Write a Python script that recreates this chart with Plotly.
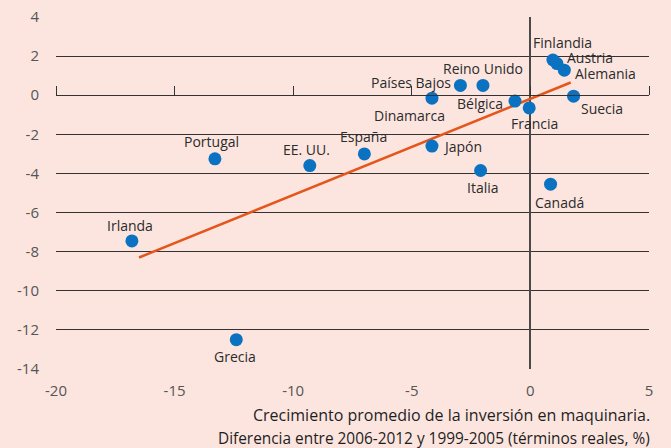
import plotly.graph_objects as go

countries = ["Portugal", "EE. UU.", "España", "Países Bajos", "Reino Unido", "Dinamarca",
             "Bélgica", "Francia", "Japón", "Italia", "Canadá", "Finlandia", "Austria",
             "Alemania", "Suecia", "Irlanda", "Grecia"]
x_vals = [-13.3, -9.3, -7.0, -2.95, -2.0, -4.15, -0.65, -0.05, -4.15, -2.1, 0.85,
          0.95, 1.12, 1.43, 1.82, -16.8, -12.4]
y_vals = [-3.25, -3.6, -3.0, 0.5, 0.5, -0.15, -0.3, -0.65, -2.6, -3.85, -4.55,
          1.8, 1.62, 1.28, -0.05, -7.45, -12.5]
trend_x = [-16.5, 1.7]
trend_y = [-8.3, 0.65]
x_ticks = [-20, -15, -10, -5, 0, 5]
x_ticktext = ["-20", "-15", "-10", "-5", "0", "5"]
y_ticks = [4, 2, 0, -2, -4, -6, -8, -10, -12, -14]
y_ticktext = ["4", "2", "0", "-2", "-4", "-6", "-8", "-10", "-12", "-14"]
xlabel_lines = ["Crecimiento promedio de la inversión en maquinaria.",
                "Diferencia entre 2006-2012 y 1999-2005 (términos reales, %)"]

# label offsets in pixels (styling)
offsets = {
    "Portugal": (-3, 17), "EE. UU.": (-3, 16), "España": (-1, 17),
    "Países Bajos": (-49, 3), "Reino Unido": (0, 17), "Dinamarca": (-22, -17),
    "Bélgica": (-35, -2), "Francia": (5, -16), "Japón": (31, 0), "Italia": (2, -17),
    "Canadá": (9, -18), "Finlandia": (10, 18), "Austria": (33, 6),
    "Alemania": (41, -3), "Suecia": (28, -12), "Irlanda": (-2, 15), "Grecia": (-1, -17),
}

BG = "#fce5df"
FONT = "Open Sans"

fig = go.Figure()
fig.add_trace(go.Scatter(x=trend_x, y=trend_y, mode="lines",
                         line=dict(color="#e4561c", width=2.5), hoverinfo="skip",
                         showlegend=False))
fig.add_trace(go.Scatter(x=x_vals, y=y_vals, mode="markers",
                         marker=dict(color="#0a72c0", size=13, line=dict(width=0)),
                         showlegend=False))
# invisible trace to carry the zero-line axis with upward ticks
fig.add_trace(go.Scatter(x=[None], y=[None], xaxis="x2", yaxis="y", showlegend=False,
                         hoverinfo="skip"))

for c, xv, yv in zip(countries, x_vals, y_vals):
    dx, dy = offsets[c]
    fig.add_annotation(x=xv, y=yv, text=c, showarrow=False, xshift=dx, yshift=dy,
                       font=dict(family=FONT, size=14, color="#2b2b2b"))

for line, ys, fs in zip(xlabel_lines, [-46, -69], [16, 15.4]):
    fig.add_annotation(x=1, y=0, xref="paper", yref="paper", xanchor="right",
                       yanchor="middle", yshift=ys, xshift=3, text=line, showarrow=False,
                       font=dict(family=FONT, size=fs, color="#1e1e1e"))

y0_frac = (0 - (-14)) / (4 - (-14))

fig.update_layout(
    width=671, height=448,
    margin=dict(l=56, r=22, t=17, b=79, autoexpand=False),
    paper_bgcolor=BG, plot_bgcolor=BG,
    xaxis=dict(range=[-20, 5], tickvals=x_ticks, ticktext=x_ticktext, showgrid=False,
               zeroline=True, zerolinecolor="#4a4a4a", zerolinewidth=1.5, showline=False,
               ticks="", automargin=False,
               tickfont=dict(family=FONT, size=15, color="#555555"), ticklabelstandoff=11),
    xaxis2=dict(range=[-20, 5], overlaying="x", anchor="free", position=y0_frac, side="top",
                tickvals=x_ticks, showticklabels=False, ticks="outside", ticklen=9,
                tickwidth=1.3, tickcolor="#333333", showline=True, linecolor="#333333",
                linewidth=1.3, showgrid=False, zeroline=False, automargin=False),
    yaxis=dict(range=[-14, 4], tickvals=y_ticks, ticktext=y_ticktext, showgrid=True,
               gridcolor="#333333", gridwidth=1, zeroline=False, showline=False, ticks="",
               automargin=False,
               tickfont=dict(family=FONT, size=15, color="#555555"), ticklabelstandoff=16),
    font=dict(family=FONT),
)

fig.write_html("out.html", config={"displayModeBar": False},
               post_script="document.body.style.margin='0';"
                           "document.body.style.background='" + BG + "';")
